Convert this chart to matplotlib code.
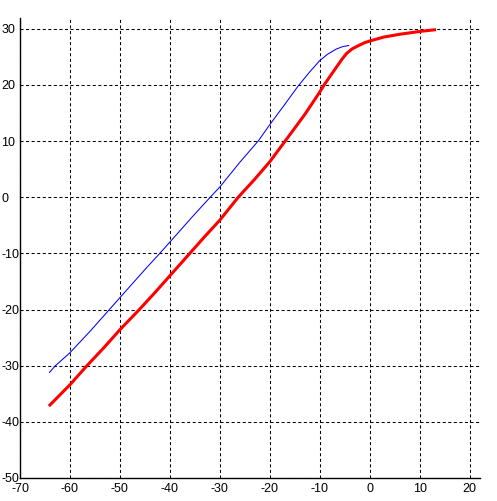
import numpy as np
import matplotlib
matplotlib.use("Agg")
import matplotlib.pyplot as plt

# blue (thin) series
blue_x = [-64.1, -62.9, -60.0, -56.0, -52.3, -50.0, -45.0, -41.8, -40.0, -35.0,
          -31.9, -30.0, -26.0, -22.3, -20.0, -17.0, -14.3, -12.0, -10.0, -8.5,
          -7.2, -6.6, -5.4, -4.2]
blue_y = [-31.2, -30.0, -27.7, -23.9, -20.2, -17.9, -12.9, -9.8, -8.0, -3.0,
          0.0, 1.8, 6.2, 10.0, 12.9, 16.5, 19.8, 22.3, 24.3, 25.4,
          26.1, 26.4, 26.8, 27.0]

# red (thick) series
red_x = [-64.0, -62.0, -60.0, -56.8, -53.0, -50.0, -46.1, -43.0, -40.0, -36.0,
         -33.0, -30.0, -26.3, -23.0, -20.0, -16.9, -13.0, -10.0, -9.1, -7.0,
         -5.5, -4.6, -3.5, -2.2, -1.0, 0.0, 2.8, 6.0, 10.0, 13.0]
red_y = [-37.0, -35.2, -33.4, -30.2, -26.6, -23.6, -20.0, -17.0, -14.0, -10.0,
         -7.0, -4.1, 0.0, 3.2, 6.3, 10.0, 14.7, 18.7, 20.0, 22.7,
         24.6, 25.6, 26.4, 27.0, 27.5, 27.8, 28.5, 29.0, 29.5, 29.8]

x_ticks = [-70, -60, -50, -40, -30, -20, -10, 0, 10, 20]
y_ticks = [-50, -40, -30, -20, -10, 0, 10, 20, 30]

plt.rcParams['lines.scale_dashes'] = False
plt.rcParams['axes.unicode_minus'] = False
plt.rcParams['font.family'] = ['Liberation Sans Narrow', 'Liberation Sans', 'DejaVu Sans']

fig = plt.figure(figsize=(4.97, 5.01), dpi=100)
ax = fig.add_axes([20 / 497, 23 / 501, 460 / 497, 460 / 501])

ax.plot(blue_x, blue_y, color='blue', linewidth=0.75)
ax.plot(red_x, red_y, color='red', linewidth=2.2)

ax.set_xlim(-70, 22.1)
ax.set_ylim(-50, 31.9)
ax.set_xticks(x_ticks)
ax.set_yticks(y_ticks)
ax.grid(True, color='black', linestyle=(0, (2.2, 1.8)), linewidth=0.75)
ax.spines['top'].set_visible(False)
ax.spines['right'].set_visible(False)
ax.spines['left'].set_linewidth(1.0)
ax.spines['bottom'].set_linewidth(1.0)
ax.tick_params(length=0, labelsize=9)
ax.tick_params(axis='x', pad=3.5)
ax.tick_params(axis='y', pad=13.5)
for lbl in ax.get_yticklabels():
    lbl.set_horizontalalignment('left')

fig.savefig("out.png", dpi=100)
